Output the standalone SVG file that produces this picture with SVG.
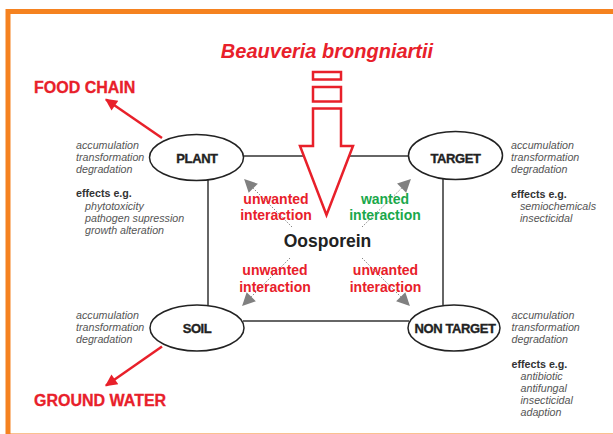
<svg xmlns="http://www.w3.org/2000/svg" width="613" height="434" viewBox="0 0 613 434">
<defs>
<style>
.frame{fill:none;stroke:#f58220;stroke-width:5}
.edge{fill:none;stroke:#333;stroke-width:1.5}
.node{fill:#fff;stroke:#222;stroke-width:1.5}
.lbl{font-family:"Liberation Sans",Arial,sans-serif;font-weight:bold;font-size:13px;fill:#222;stroke:#222;stroke-width:0.35;letter-spacing:-0.4px;text-anchor:middle}
.side{font-family:"Liberation Sans",Arial,sans-serif;font-style:italic;font-size:10.7px;fill:#555}
.eff{font-family:"Liberation Sans",Arial,sans-serif;font-weight:bold;font-size:10.7px;fill:#333}
.big{font-family:"Liberation Sans",Arial,sans-serif;font-weight:bold;font-size:16px;fill:#e8202a;stroke:#e8202a;stroke-width:0.3}
.inter{font-family:"Liberation Sans",Arial,sans-serif;font-weight:bold;font-size:14px;text-anchor:middle}
.red{fill:#e8202a}
.green{fill:#1aa84b}
.redline{stroke:#e8202a;stroke-width:2.5;fill:none}
.dot{stroke:#888;stroke-width:1;stroke-dasharray:1.5 1.5;fill:none}
</style>
<marker id="redHead" viewBox="0 0 10 10" refX="9" refY="5" markerWidth="15" markerHeight="12" orient="auto" markerUnits="userSpaceOnUse">
<path d="M0,0 L10,5 L0,10 z" fill="#e8202a"/>
</marker>
<marker id="grayHead" viewBox="0 0 10 10" refX="9" refY="5" markerWidth="14" markerHeight="13" orient="auto" markerUnits="userSpaceOnUse">
<path d="M0,0 L10,5 L0,10 z" fill="#808080"/>
</marker>
</defs>
<rect width="613" height="434" fill="#fff"/>
<rect class="frame" x="8" y="11.5" width="640" height="424.5"/>

<g id="connectors">
<line class="edge" x1="244" y1="156" x2="306" y2="156"/>
<line class="edge" x1="348" y1="156" x2="409" y2="156"/>
<line class="edge" x1="208" y1="180" x2="208" y2="305"/>
<line class="edge" x1="443" y1="178" x2="443" y2="305"/>
<line class="edge" x1="243" y1="321" x2="409" y2="321"/>
<line class="redline" x1="162" y1="138" x2="106" y2="99.5" marker-end="url(#redHead)"/>
<line class="redline" x1="162" y1="346.5" x2="106" y2="385.5" marker-end="url(#redHead)"/>
<line class="dot" x1="292" y1="227" x2="245" y2="180" marker-end="url(#grayHead)"/>
<line class="dot" x1="362" y1="227" x2="410" y2="180" marker-end="url(#grayHead)"/>
<line class="dot" x1="290" y1="258" x2="243" y2="305" marker-end="url(#grayHead)"/>
<line class="dot" x1="362" y1="258" x2="409" y2="305" marker-end="url(#grayHead)"/>
</g>

<g id="source">
<text x="327" y="58" font-family="Liberation Sans,Arial,sans-serif" font-weight="bold" font-style="italic" font-size="20px" fill="#e8202a" text-anchor="middle">Beauveria brongniartii</text>
<rect x="313" y="72" width="28" height="7.5" fill="#fff" stroke="#e8202a" stroke-width="2.5"/>
<rect x="313" y="87" width="28" height="14.5" fill="#fff" stroke="#e8202a" stroke-width="2.5"/>
<path d="M313,108.5 L341,108.5 L341,146 L353,146 L326.5,215 L300,146 L313,146 Z" fill="#fff" stroke="#e8202a" stroke-width="2.5" stroke-linejoin="miter"/>
</g>

<g id="plant">
<ellipse class="node" cx="196.5" cy="157.5" rx="47" ry="23"/>
<text class="lbl" x="197" y="162.5">PLANT</text>
</g>
<g id="target">
<ellipse class="node" cx="455.5" cy="155.5" rx="47" ry="24"/>
<text class="lbl" x="455.5" y="162.5">TARGET</text>
</g>
<g id="soil">
<ellipse class="node" cx="197" cy="328" rx="47" ry="23"/>
<text class="lbl" x="197" y="333">SOIL</text>
</g>
<g id="nontarget">
<ellipse class="node" cx="454" cy="328" rx="46" ry="23"/>
<text class="lbl" x="455" y="333">NON TARGET</text>
</g>

<g id="oosporein">
<text x="327.5" y="247" font-family="Liberation Sans,Arial,sans-serif" font-weight="bold" font-size="17.5px" fill="#222" text-anchor="middle">Oosporein</text>
</g>

<g id="labels">
<text class="inter red" x="276" y="203.5">unwanted</text>
<text class="inter red" x="276" y="220">interaction</text>
<text class="inter green" x="385" y="203.5">wanted</text>
<text class="inter green" x="385" y="220">interaction</text>
<text class="inter red" x="275" y="275">unwanted</text>
<text class="inter red" x="275" y="291.5">interaction</text>
<text class="inter red" x="385.5" y="275">unwanted</text>
<text class="inter red" x="385.5" y="291.5">interaction</text>
<text class="big" x="34" y="93">FOOD CHAIN</text>
<text class="big" x="34" y="406">GROUND WATER</text>
</g>

<g id="plant-notes">
<text class="side" x="76" y="149">accumulation</text>
<text class="side" x="76" y="161">transformation</text>
<text class="side" x="76" y="173">degradation</text>
<text class="eff" x="76" y="197">effects e.g.</text>
<text class="side" x="85" y="209.5">phytotoxicity</text>
<text class="side" x="85" y="221.5">pathogen supression</text>
<text class="side" x="85" y="233.5">growth alteration</text>
</g>
<g id="target-notes">
<text class="side" x="511" y="149">accumulation</text>
<text class="side" x="511" y="161">transformation</text>
<text class="side" x="511" y="173">degradation</text>
<text class="eff" x="511" y="197.5">effects e.g.</text>
<text class="side" x="520" y="210">semiochemicals</text>
<text class="side" x="520" y="222">insecticidal</text>
</g>
<g id="soil-notes">
<text class="side" x="76" y="319">accumulation</text>
<text class="side" x="76" y="331">transformation</text>
<text class="side" x="76" y="343">degradation</text>
</g>
<g id="nontarget-notes">
<text class="side" x="511.5" y="319">accumulation</text>
<text class="side" x="511.5" y="331">transformation</text>
<text class="side" x="511.5" y="343">degradation</text>
<text class="eff" x="511.5" y="368">effects e.g.</text>
<text class="side" x="520.5" y="380">antibiotic</text>
<text class="side" x="520.5" y="392">antifungal</text>
<text class="side" x="520.5" y="404">insecticidal</text>
<text class="side" x="520.5" y="416">adaption</text>
</g>
</svg>
